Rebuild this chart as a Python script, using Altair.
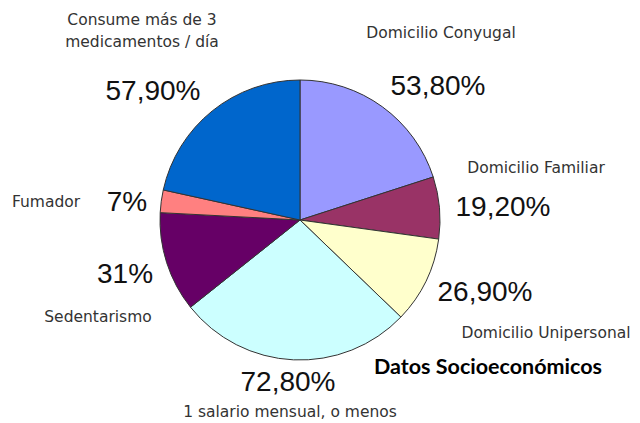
import altair as alt
import pandas as pd

categories = ["Domicilio Conyugal", "Domicilio Familiar", "Domicilio Unipersonal",
              "1 salario mensual, o menos", "Sedentarismo", "Fumador",
              "Consume más de 3 medicamentos / día"]
values = [53.8, 19.2, 26.9, 72.8, 31, 7, 57.9]
value_labels = ["53,80%", "19,20%", "26,90%", "72,80%", "31%", "7%", "57,90%"]
colors = ["#9999FF", "#993366", "#FFFFCC", "#CCFFFF", "#660066", "#FF8080", "#0066CC"]

# annotation placement (page pixels, as laid out in the source image)
cat_text = ["Consume más de 3", "medicamentos / día", "Domicilio Conyugal",
            "Domicilio Familiar", "Domicilio Unipersonal",
            "1 salario mensual, o menos", "Sedentarismo", "Fumador"]
cat_x = [142, 142, 441, 536, 546, 290, 98, 46]
cat_y = [20, 42, 33, 168, 333, 412, 317, 202]
pct_x = [438, 503, 485, 288, 125, 127, 153]
pct_y = [87, 208, 293, 383, 275, 203, 92]
title_text = "Datos Socioeconómicos"
title_x, title_y = 488, 368

M = 8  # page margin
pie_df = pd.DataFrame({"cat": categories, "value": values, "order": list(range(len(values)))})

pie = alt.Chart(pie_df).mark_arc(radius=140, stroke="#333333", strokeWidth=1).encode(
    theta=alt.Theta("value:Q", stack=True),
    order=alt.Order("order:Q"),
    color=alt.Color("cat:N", scale=alt.Scale(domain=categories, range=colors), legend=None),
    x=alt.value(300 - M),
    y=alt.value(220 - M),
)

def pos():
    return dict(x=alt.X("x:Q", scale=None, axis=None), y=alt.Y("y:Q", scale=None, axis=None), text="t:N")

cat_df = pd.DataFrame({"t": cat_text, "x": [v - M for v in cat_x], "y": [v - M for v in cat_y]})
cats = alt.Chart(cat_df).mark_text(font="DejaVu Sans", fontSize=15.5, color="#333333",
                                   align="center", baseline="middle").encode(**pos())

pct_df = pd.DataFrame({"t": value_labels, "x": [v - M for v in pct_x], "y": [v - M for v in pct_y]})
pcts = alt.Chart(pct_df).mark_text(font="Liberation Sans", fontSize=28, color="#111111",
                                   align="center", baseline="middle").encode(**pos())

title_df = pd.DataFrame({"t": [title_text], "x": [title_x - M], "y": [title_y - M]})
title = alt.Chart(title_df).mark_text(font="Lato", fontSize=21.5, fontWeight="bold", color="#000000",
                                      align="center", baseline="middle").encode(**pos())

chart = alt.layer(pie, cats, pcts, title).properties(
    width=624, height=415, padding=0, autosize="none", background="white"
).configure_view(strokeWidth=0, stroke="transparent")

chart.save("out.html", embed_options={"renderer": "svg", "actions": False})
